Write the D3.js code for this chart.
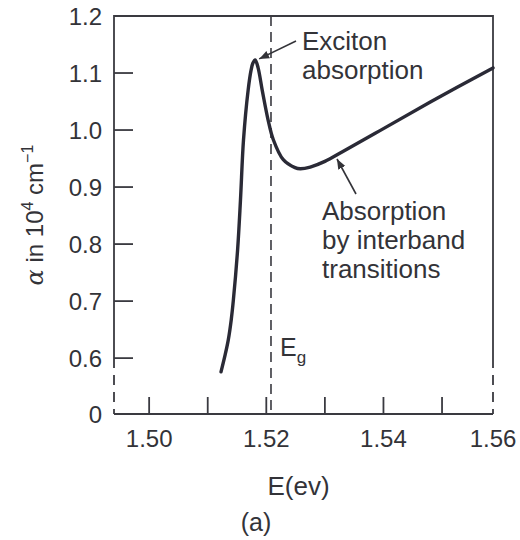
<!DOCTYPE html>
<html>
<head>
<meta charset="utf-8">
<script src="https://cdn.jsdelivr.net/npm/d3@7/dist/d3.min.js"></script>
<style>
  html, body { margin: 0; padding: 0; background: #ffffff; }
  svg { display: block; }
  text { font-family: "Liberation Sans", Arial, Helvetica, sans-serif; fill: #333338; }
</style>
</head>
<body>
<svg id="chart" width="520" height="540"></svg>
<script>
// Absorption spectrum near the band edge (photon energy in eV, alpha in 10^4 cm^-1)
const energy = [1.51227, 1.51298, 1.51351, 1.51401, 1.51438, 1.51510, 1.51559, 1.51611, 1.5169, 1.5174,
                1.5177, 1.5181, 1.5186, 1.5193, 1.5203, 1.5212, 1.5229, 1.5249, 1.5258, 1.5275,
                1.5300, 1.5330, 1.5394, 1.5480, 1.5587];
const alpha  = [0.576, 0.606, 0.632, 0.667, 0.702, 0.790, 0.877, 0.983, 1.070, 1.105,
                1.117, 1.123, 1.109, 1.070, 1.018, 0.983, 0.948, 0.934, 0.932, 0.935,
                0.945, 0.962, 0.999, 1.049, 1.109];

// Axis ticks and labels
const xTickValues = [1.50, 1.51, 1.52, 1.53, 1.54, 1.55];
const xLabelValues = [1.50, 1.52, 1.54, 1.56];
const yTickValues = [0.6, 0.7, 0.8, 0.9, 1.0, 1.1];
const yLabelValues = [0.6, 0.7, 0.8, 0.9, 1.0, 1.1, 1.2];
const bandGap = 1.5208;          // E_g marker
const xDomain = [1.4940, 1.5587];
const yDomain = [0.502, 1.2];    // bottom of the broken axis is labelled 0
const yBreak = 0.6;              // axis is dashed below this value

const svg = d3.select("#chart");
const ink = "#2a2a36";

const x = d3.scaleLinear().domain(xDomain).range([114, 493]);
const y = d3.scaleLinear().domain(yDomain).range([414, 16]);
const X0 = x.range()[0], X1 = x.range()[1];
const Y0 = y.range()[0], Y1 = y.range()[1];

// Frame: solid above the break, dashed below it
const frame = svg.append("g").attr("stroke", "#3a3a40").attr("stroke-width", 1.8).attr("fill", "none");
frame.append("path").attr("d", `M${X0},${y(yBreak)} V${Y1} H${X1} V${y(yBreak)}`);
frame.append("line").attr("x1", X0).attr("x2", X1).attr("y1", Y0).attr("y2", Y0);
[X0, X1].forEach(px => {
  frame.append("line").attr("x1", px).attr("x2", px)
    .attr("y1", y(yBreak)).attr("y2", Y0)
    .attr("stroke-dasharray", "10,7");
});

// Inward ticks
frame.selectAll(".xt").data(xTickValues).enter().append("line")
  .attr("x1", d => x(d)).attr("x2", d => x(d))
  .attr("y1", Y0).attr("y2", Y0 - 17);
frame.selectAll(".yt").data(yTickValues).enter().append("line")
  .attr("x1", X0).attr("x2", X0 + 19)
  .attr("y1", d => y(d)).attr("y2", d => y(d));

// Tick labels
svg.selectAll(".xl").data(xLabelValues).enter().append("text")
  .attr("x", d => Math.min(x(d), X1))
  .attr("y", Y0 + 33)
  .attr("text-anchor", "middle")
  .attr("font-size", 24)
  .text(d => d.toFixed(2));
svg.selectAll(".yl").data(yLabelValues).enter().append("text")
  .attr("x", 102)
  .attr("y", d => y(d) + 9)
  .attr("text-anchor", "end")
  .attr("font-size", 24)
  .text(d => d.toFixed(1));
svg.append("text").attr("x", 102).attr("y", Y0 + 9)
  .attr("text-anchor", "end").attr("font-size", 24).text("0");

// Band-gap marker
svg.append("line")
  .attr("x1", x(bandGap)).attr("x2", x(bandGap))
  .attr("y1", Y1).attr("y2", Y0)
  .attr("stroke", "#3a3a40").attr("stroke-width", 1.6)
  .attr("stroke-dasharray", "10,6");
const eg = svg.append("text").attr("x", x(bandGap) + 9).attr("y", 356).attr("font-size", 25);
eg.append("tspan").text("E");
eg.append("tspan").attr("font-size", 17).attr("dy", 7).text("g");

// Absorption curve
const pts = energy.map((e, i) => [e, alpha[i]]);
svg.append("path")
  .datum(pts)
  .attr("fill", "none")
  .attr("stroke", ink)
  .attr("stroke-width", 3.4)
  .attr("stroke-linecap", "round")
  .attr("stroke-linejoin", "round")
  .attr("d", d3.line().x(d => x(d[0])).y(d => y(d[1])).curve(d3.curveCatmullRom.alpha(0.5)));

// Arrowhead marker
svg.append("defs").append("marker")
  .attr("id", "arrow").attr("viewBox", "0 0 10 10")
  .attr("refX", 10).attr("refY", 5)
  .attr("markerWidth", 10).attr("markerHeight", 10)
  .attr("markerUnits", "userSpaceOnUse")
  .attr("orient", "auto")
  .append("path").attr("d", "M0,1 L10,5 L0,9 Z").attr("fill", "#333338");

// Annotation: exciton peak
const peakIdx = alpha.indexOf(d3.max(alpha));
const px = x(energy[peakIdx]) + 4, py = y(alpha[peakIdx]) - 1;
svg.append("line")
  .attr("x1", 296).attr("y1", 41).attr("x2", px).attr("y2", py)
  .attr("stroke", "#333338").attr("stroke-width", 1.6)
  .attr("marker-end", "url(#arrow)");
const ex = svg.append("text").attr("font-size", 26);
ex.append("tspan").attr("x", 302).attr("y", 50).text("Exciton");
ex.append("tspan").attr("x", 302).attr("y", 79).text("absorption");

// Annotation: interband absorption
svg.append("line")
  .attr("x1", 356).attr("y1", 194).attr("x2", 337).attr("y2", 159)
  .attr("stroke", "#333338").attr("stroke-width", 1.6)
  .attr("marker-end", "url(#arrow)");
const ib = svg.append("text").attr("font-size", 26);
ib.append("tspan").attr("x", 322).attr("y", 220).text("Absorption");
ib.append("tspan").attr("x", 322).attr("y", 249).text("by interband");
ib.append("tspan").attr("x", 322).attr("y", 278).text("transitions");

// Axis titles
svg.append("text")
  .attr("x", (X0 + X1) / 2 - 5).attr("y", 495)
  .attr("text-anchor", "middle").attr("font-size", 26)
  .text("E(ev)");

const yt = svg.append("text")
  .attr("transform", `translate(43,${(Y0 + Y1) / 2}) rotate(-90)`)
  .attr("text-anchor", "middle").attr("font-size", 24);
yt.append("tspan").attr("font-family", "'DejaVu Serif', serif").attr("font-style", "italic").text("α");
yt.append("tspan").text(" in 10");
yt.append("tspan").attr("font-size", 16).attr("dy", -10).text("4");
yt.append("tspan").attr("dy", 10).text(" cm");
yt.append("tspan").attr("font-size", 16).attr("dy", -10).text("−1");

// Panel caption
svg.append("text")
  .attr("x", 256).attr("y", 531)
  .attr("text-anchor", "middle").attr("font-size", 25)
  .attr("font-family", "'Liberation Serif', 'Times New Roman', serif")
  .text("(a)");
</script>
</body>
</html>
